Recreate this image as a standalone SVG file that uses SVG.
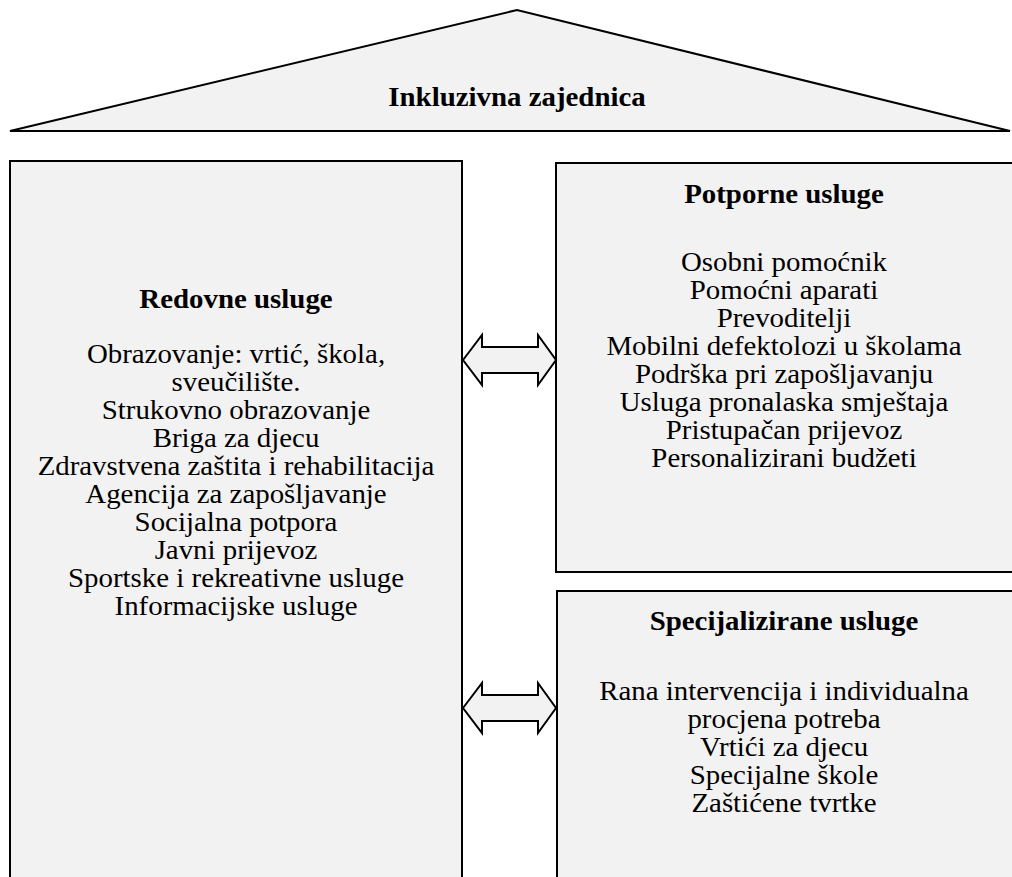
<svg xmlns="http://www.w3.org/2000/svg" width="1012" height="877" viewBox="0 0 1012 877">
<style>
.shape{fill:#f2f2f2;stroke:#000;stroke-width:2}
.t{font-family:"Liberation Serif","Times New Roman",serif;font-size:27.5px;text-anchor:middle;fill:#000}
.b{font-weight:bold}
</style>
<rect width="1012" height="877" fill="#fff"/>
<g id="roof">
<polygon class="shape" points="10,131 517,10 1010,131"/>
<g transform="translate(517 0) scale(1.05 1)"><text class="t b" x="0" y="106">Inkluzivna zajednica</text></g>
</g>
<g id="redovne">
<rect class="shape" x="10" y="161" width="452" height="730"/>
<g transform="translate(236 0) scale(1.05 1)">
<text class="t b" x="0" y="308">Redovne usluge</text>
<text class="t" x="0" y="363">Obrazovanje: vrtić, škola,</text>
<text class="t" x="0" y="391">sveučilište.</text>
<text class="t" x="0" y="419">Strukovno obrazovanje</text>
<text class="t" x="0" y="447">Briga za djecu</text>
<text class="t" x="0" y="475">Zdravstvena zaštita i rehabilitacija</text>
<text class="t" x="0" y="503">Agencija za zapošljavanje</text>
<text class="t" x="0" y="531">Socijalna potpora</text>
<text class="t" x="0" y="559">Javni prijevoz</text>
<text class="t" x="0" y="587">Sportske i rekreativne usluge</text>
<text class="t" x="0" y="615">Informacijske usluge</text>
</g>
</g>
<g id="potporne">
<rect class="shape" x="556" y="163" width="470" height="409"/>
<g transform="translate(784 0) scale(1.05 1)">
<text class="t b" x="0" y="203">Potporne usluge</text>
<text class="t" x="0" y="271">Osobni pomoćnik</text>
<text class="t" x="0" y="299">Pomoćni aparati</text>
<text class="t" x="0" y="327">Prevoditelji</text>
<text class="t" x="0" y="355">Mobilni defektolozi u školama</text>
<text class="t" x="0" y="383">Podrška pri zapošljavanju</text>
<text class="t" x="0" y="411">Usluga pronalaska smještaja</text>
<text class="t" x="0" y="439">Pristupačan prijevoz</text>
<text class="t" x="0" y="467">Personalizirani budžeti</text>
</g>
</g>
<g id="specijalizirane">
<rect class="shape" x="557" y="591" width="470" height="300"/>
<g transform="translate(784 0) scale(1.05 1)">
<text class="t b" x="0" y="630">Specijalizirane usluge</text>
<text class="t" x="0" y="700">Rana intervencija i individualna</text>
<text class="t" x="0" y="728">procjena potreba</text>
<text class="t" x="0" y="756">Vrtići za djecu</text>
<text class="t" x="0" y="784">Specijalne škole</text>
<text class="t" x="0" y="812">Zaštićene tvrtke</text>
</g>
</g>
<g id="connectors">
<path class="shape" d="M463,360 L482,335 L482,347 L538,347 L538,335 L556,360 L538,385 L538,373 L482,373 L482,385 Z"/>
<path class="shape" d="M463,708 L482,683 L482,695 L538,695 L538,683 L556,708 L538,733 L538,721 L482,721 L482,733 Z"/>
</g>
</svg>
